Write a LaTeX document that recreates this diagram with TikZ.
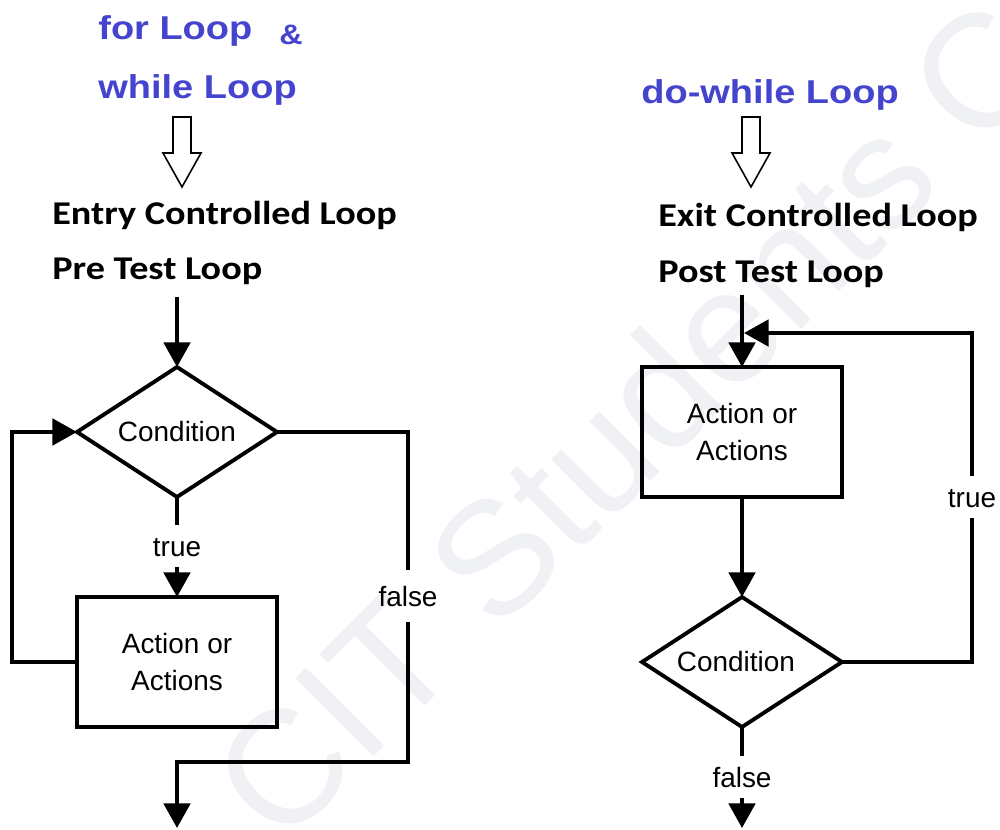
\documentclass[tikz,border=0pt]{standalone}
\usepackage{fontspec}
\usetikzlibrary{shapes.geometric,arrows.meta}
\setmainfont{Liberation Sans}
\newfontfamily\headfamily{Liberation Sans}[FakeStretch=1.15]
\newfontfamily\subfamily{Carlito}[FakeStretch=1.15]
\newfontfamily\plainfamily{Liberation Sans}
\newcommand\headfont{\headfamily\bfseries\fontsize{18.8}{22}\selectfont}
\newcommand\ampfont{\headfamily\bfseries\fontsize{16}{19}\selectfont}
\newcommand\subfont{\subfamily\bfseries\fontsize{18.9}{23}\selectfont}
\newcommand\nodetextfont{\plainfamily\fontsize{15.9}{21}\selectfont}
\newcommand\wmfont{\plainfamily\fontsize{91.6}{100}\selectfont}
\definecolor{headblue}{RGB}{68,68,206}
\definecolor{wmgray}{RGB}{240,241,244}
\tikzset{
  link/.style={line width=2.2pt},
  arr/.style={line width=2.2pt, -{Triangle[width=15pt,length=14pt]}},
  actionbox/.style={draw, line width=2.2pt, minimum width=4cm, minimum height=2.6cm,
    inner sep=0pt, outer sep=0pt, align=center, font=\nodetextfont},
  decision/.style={diamond, draw, line width=2.2pt, minimum width=4cm, minimum height=2.6cm,
    aspect=1.54, inner sep=0pt, outer sep=0pt, font=\nodetextfont},
  lbl/.style={inner xsep=2pt, inner ysep=6pt, outer sep=0pt, text height=11.4pt,
    text depth=0pt, font=\nodetextfont},
  heading/.style={anchor=base west, inner sep=0pt, text=headblue, font=\headfont},
  subhead/.style={anchor=base west, inner sep=0pt, font=\subfont},
  hollow/.style={draw=black, line width=0.9pt, fill=white, line join=miter},
  watermark/.style={rotate=45, inner sep=0pt, text=wmgray, font=\wmfont},
  hollowdown/.pic={
    \path[hollow] (-9,0) -- (9,0) -- (9,36) -- (19,36) -- (0,70) -- (-19,36) -- (-9,36) -- cycle;
  }
}
\begin{document}
\begin{tikzpicture}[x=0.02cm, y=-0.02cm]
\useasboundingbox (0,0) rectangle (1000,830);
\clip (0,0) rectangle (1000,830);
\fill[white] (0,0) rectangle (1000,830);

% background mark
\node[watermark] (wm) at (630,420) {CIT Students C};

% titles
\node[heading] (h1) at (98,40) {for Loop};
\node[heading, font=\ampfont] (amp) at (279,45) {\&};
\node[heading] (h2) at (98,99) {while Loop};
\node[heading] (h3) at (641,104) {do-while Loop};

\pic at (182,117) {hollowdown};
\pic at (751,117) {hollowdown};

\node[subhead] (s1) at (52,225) {Entry Controlled Loop};
\node[subhead] (s2) at (52,280) {Pre Test Loop};
\node[subhead] (s3) at (658,227) {Exit Controlled Loop};
\node[subhead] (s4) at (658,283) {Post Test Loop};

% pre-test loop
\coordinate (lin) at (177,297);
\node[decision] (ldia) at (177,432) {Condition};
\node[lbl] (ltrue) at (177,546) {true};
\node[actionbox] (lbox) at (177,662) {Action or\\Actions};
\node[lbl, inner ysep=9pt] (lfalse) at (408,596) {false};
\coordinate (lback) at (12,432);
\coordinate (lturn) at (177,762);
\coordinate (lout) at (177,828);
\draw[arr] (lin) -- (ldia.north);
\draw[link] (ldia.south) -- (ltrue.north);
\draw[arr] (ltrue.south) -- (lbox.north);
\draw[arr] (lbox.west) -| (lback) -- (ldia.west);
\draw[link] (ldia.east) -| (lfalse.north);
\draw[arr] (lfalse.south) |- (lturn) -- (lout);

% post-test loop
\coordinate (rin) at (742,295);
\node[actionbox] (rbox) at (742,432) {Action or\\Actions};
\node[decision] (rdia) at (742,662) {\hspace*{-7pt}Condition};
\node[lbl] (rtrue) at (972,497) {true};
\node[lbl] (rfalse) at (742,777) {false};
\coordinate (rjoin) at (744,333);
\coordinate (rout) at (742,828);
\draw[arr] (rin) -- (rbox.north);
\draw[arr] (rbox.south) -- (rdia.north);
\draw[link] (rdia.east) -| (rtrue.south);
\draw[arr] (rtrue.north) |- (rjoin);
\draw[link] (rdia.south) -- (rfalse.north);
\draw[arr] (rfalse.south) -- (rout);
\end{tikzpicture}
\end{document}
